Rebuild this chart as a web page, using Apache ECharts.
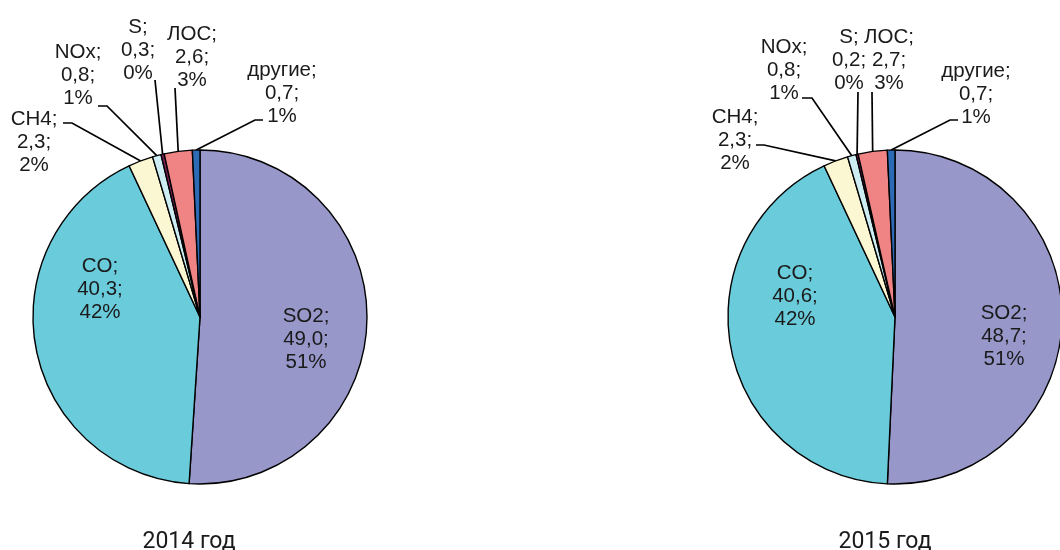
<!DOCTYPE html>
<html>
<head>
<meta charset="utf-8">
<script src="https://cdn.jsdelivr.net/npm/echarts@6/dist/echarts.min.js"></script>
<style>html,body{margin:0;padding:0;background:#fff}#c{width:1060px;height:550px}</style>
</head>
<body>
<div id="c"></div>
<script>
const categories = ['SO2', 'CO', 'CH4', 'NOx', 'S', 'ЛОС', 'другие'];
const values2014 = [49.0, 40.3, 2.3, 0.8, 0.3, 2.6, 0.7];
const values2015 = [48.7, 40.6, 2.3, 0.8, 0.2, 2.7, 0.7];
const years = ['2014 год', '2015 год'];

const colors = ['#9797CA', '#6ACBDB', '#FBF7D2', '#CDEDF3', '#7A1E58', '#F08484', '#2E6BB6'];
const centers = [[200, 317], [895, 317]];
const radius = 167;
const titlePos = [[184, 526], [880, 526]];

// label placement (style/layout): [labelX, labelY, elbowX, elbowY, endX, endY]
const labelPlace = [
  [
    [306, 339], [100, 289],
    [34, 142, 72, 123, 63, 123],
    [78, 75, 107, 106, 98, 106],
    [138, 50, 155, 80, 155, 80],
    [192, 57, 175, 88, 175, 88],
    [282, 93, 255, 120, 263, 120]
  ],
  [
    [1004, 336], [795, 296],
    [735, 140, 764, 145, 756, 145],
    [784, 70, 812, 98, 802, 98],
    [849, 60, 858, 92, 858, 92],
    [889, 60, 872, 92, 872, 92],
    [976, 94, 950, 120, 958, 120]
  ]
];

function fmt(p) {
  return p.name + ';\n' + p.value.toFixed(1).replace('.', ',') + ';\n' + Math.round(p.percent) + '%';
}

function makeSeries(values, si) {
  return {
    type: 'pie',
    center: centers[si],
    radius: radius,
    startAngle: 90,
    clockwise: true,
    avoidLabelOverlap: false,
    animation: false,
    itemStyle: { borderColor: '#000', borderWidth: 1.4 },
    label: {
      formatter: fmt,
      fontFamily: 'Liberation Sans, Arial, sans-serif',
      fontSize: 20.5,
      lineHeight: 23,
      color: '#1a1a1a',
      align: 'center'
    },
    labelLine: { lineStyle: { color: '#000', width: 1.7 }, length: 10, length2: 10 },
    emphasis: { disabled: true },
    data: categories.map((c, i) => ({
      name: c,
      value: values[i],
      itemStyle: { color: colors[i] },
      label: { position: i < 2 ? 'inside' : 'outside' },
      labelLine: { show: i >= 2 }
    })),
    labelLayout: function (params) {
      const pl = labelPlace[si][params.dataIndex];
      const res = { x: pl[0], y: pl[1], align: 'center', verticalAlign: 'middle' };
      if (params.dataIndex >= 2) {
        let p0 = params.labelLinePoints && params.labelLinePoints[0];
        res.labelLinePoints = [p0 ? [p0[0], p0[1]] : [pl[2], pl[3]], [pl[2], pl[3]], [pl[4], pl[5]]];
      }
      return res;
    }
  };
}

const chart = echarts.init(document.getElementById('c'), null, { renderer: 'canvas' });
chart.setOption({
  animation: false,
  title: years.map((t, i) => ({
    text: t,
    left: titlePos[i][0],
    top: titlePos[i][1],
    textAlign: 'center',
    textStyle: { fontFamily: 'Roboto, sans-serif', fontWeight: 'normal', fontSize: 23, color: '#1a1a1a' }
  })),
  series: [makeSeries(values2014, 0), makeSeries(values2015, 1)]
});
</script>
</body>
</html>
